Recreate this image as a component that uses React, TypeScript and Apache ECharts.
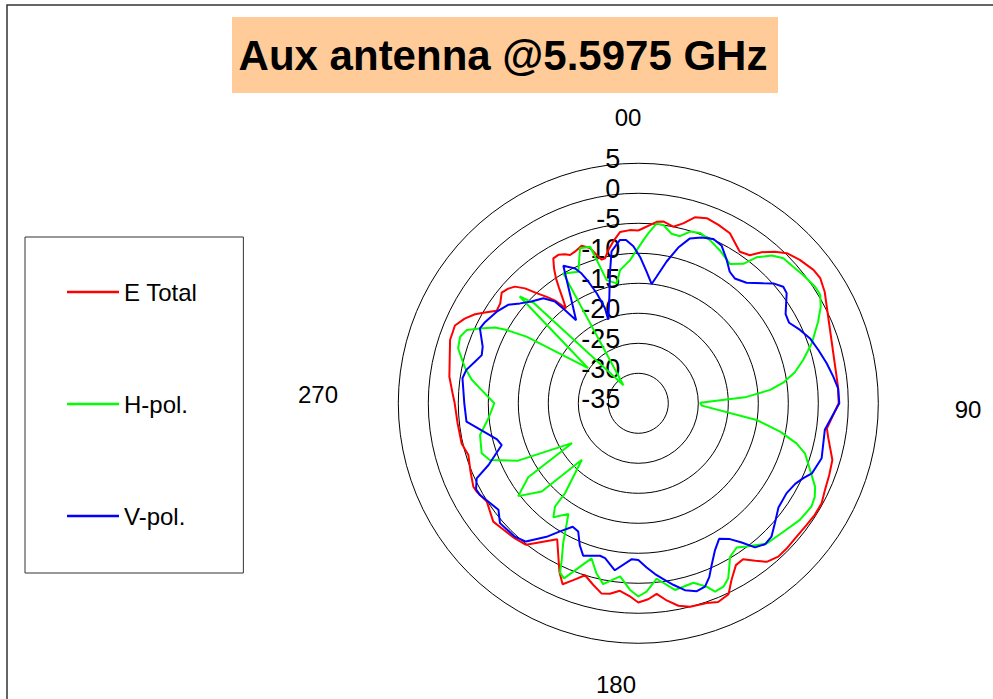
import React, { useEffect, useRef } from "react";
import * as echarts from "echarts";

const FONT = '"Liberation Sans", Arial, Helvetica, sans-serif';

const seriesNames = ["E Total", "H-pol.", "V-pol."];
const seriesColors = ["#ff0000", "#00ff00", "#0000ff"];

const chartTitle = "Aux antenna @5.5975 GHz";
const angleLabels = ["00", "90", "180", "270"];
const radiusMin = -35;
const radiusMax = 5;
const radiusStep = 5;

// E Total
const eTotalAngles = [
  0, 5.8, 7.8, 11.2, 14.0, 16.9, 20.3, 24.2, 28.3, 33.8,
  37.0, 39.2, 42.0, 44.7, 48.4, 52.7, 55.5, 59.1, 85.2, 90.0,
  97.6, 100.4, 106.3, 110.6, 114.9, 118.6, 122.3, 125.9, 130.1, 134.4,
  137.6, 141.0, 143.4, 146.1, 148.9, 152.2, 154.7, 158.1, 161.1, 165.7,
  168.8, 171.8, 174.5, 177.1, 180.0, 182.5, 185.6, 188.5, 190.9, 193.9,
  197.2, 200.2, 202.7, 205.1, 210.8, 218.4, 222.4, 226.8, 230.8, 237.0,
  241.4, 243.2, 247.8, 253.1, 257.2, 263.7, 270.0, 273.1, 278.0, 288.6,
  293.0, 296.0, 298.6, 300.6, 303.2, 305.9, 309.0, 311.4, 313.4, 315.4,
  317.3, 319.3, 320.9, 322.7, 324.0, 325.5, 326.6, 328.0, 329.6, 331.7,
  333.8, 335.3, 337.3, 340.2, 342.7, 344.3, 345.7, 347.1, 348.9, 351.2,
  353.9, 357.2, 360,
];
const eTotalValues = [
  -6.2, -4.6, -4.4, -5.0, -4.1, -2.6, -2.1, -2.4, -2.8, -4.6,
  -4.1, -2.5, -1.0, 0.2, 1.0, 1.7, 1.8, 1.2, -1.6, -1.6,
  -3.3, -2.8, -1.3, -1.0, -0.7, -0.2, -0.2, -0.4, -0.5, -0.4,
  -0.4, -1.0, -2.3, -3.7, -3.5, -1.7, 0.2, 0.7, 0.2, 0.0,
  -0.6, -1.8, -3.1, -2.3, -1.8, -2.8, -3.6, -2.9, -2.7, -3.8,
  -5.0, -3.6, -2.3, -4.0, -8.6, -4.9, -4.5, -4.2, -3.8, -4.9,
  -4.3, -4.2, -4.8, -5.4, -4.8, -4.7, -4.4, -4.0, -3.2, -1.9,
  -1.8, -2.8, -4.0, -5.3, -6.8, -6.6, -5.7, -6.1, -6.7, -8.1,
  -10.0, -11.6, -12.9, -15.1, -13.7, -11.7, -10.1, -8.5, -7.0, -6.9,
  -7.3, -7.8, -7.6, -7.1, -7.9, -9.3, -10.3, -10.2, -9.0, -7.7,
  -6.3, -6.1, -6.2,
];

// H-pol.
const hPolAngles = [
  1.8, 3.4, 5.8, 8.0, 11.1, 14.0, 16.8, 19.9, 23.7, 28.0,
  33.3, 37.0, 39.0, 42.1, 45.0, 48.6, 52.1, 56.6, 59.2, 62.1,
  65.6, 70.9, 75.3, 78.8, 81.9, 84.2, 86.8, 89.4, 92.1, 98.0,
  101.3, 104.2, 106.7, 111.2, 115.3, 118.0, 120.8, 125.8, 131.5, 137.5,
  142.9, 145.7, 149.1, 152.8, 155.1, 157.8, 159.6, 162.9, 168.9, 174.0,
  177.5, 180.0, 182.6, 186.0, 191.0, 193.8, 196.8, 203.0, 204.8, 206.1,
  208.2, 212.3, 216.7, 218.9, 219.2, 225.0, 227.6, 232.3, 236.1, 239.0,
  244.5, 249.1, 252.3, 258.7, 264.3, 270.0, 274.8, 278.2, 281.9, 287.0,
  290.5, 293.1, 295.3, 297.9, 299.1, 300.8, 305.0, 312.0, 313.8, 320.7,
  330.0, 335.5, 339.4, 342.9, 345.6, 349.8, 352.2, 356.7, 361.8,
];
const hPolValues = [
  -7.8, -6.6, -4.9, -5.0, -6.2, -6.3, -5.1, -4.8, -5.3, -6.1,
  -7.2, -5.9, -3.7, -1.8, -0.8, -0.6, -0.2, 0.3, 0.3, -0.6,
  -2.1, -4.4, -6.6, -8.4, -10.6, -12.9, -17.2, -24.7, -24.4, -15.1,
  -10.9, -7.8, -6.0, -4.3, -2.4, -1.7, -1.4, -1.8, -2.7, -3.3,
  -5.1, -5.9, -5.2, -2.2, -1.3, -1.1, -2.4, -3.7, -3.3, -5.6,
  -3.6, -2.8, -3.9, -6.0, -4.3, -5.8, -8.0, -3.3, -3.9, -6.0,
  -8.5, -13.2, -11.3, -12.9, -15.7, -21.7, -13.2, -9.7, -12.9, -22.1,
  -12.8, -8.5, -7.6, -8.1, -9.9, -11.0, -8.8, -6.9, -5.4, -3.6,
  -3.3, -3.9, -5.8, -8.0, -9.9, -13.3, -24.8, -8.4, -10.8, -31.1,
  -10.0, -10.9, -7.4, -7.7, -13.8, -14.7, -12.6, -11.1, -7.8,
];

// V-pol.
const vPolAngles = [
  0.7, 3.6, 6.4, 8.2, 11.3, 14.4, 17.4, 20.9, 24.6, 27.9,
  31.6, 34.8, 37.7, 41.9, 46.2, 48.4, 51.2, 53.4, 58.8, 61.9,
  65.6, 69.3, 73.5, 78.0, 82.2, 85.7, 90.0, 98.1, 106.7, 112.0,
  114.4, 117.2, 121.2, 126.6, 131.3, 135.0, 138.0, 141.0, 143.4, 146.0,
  149.2, 152.4, 155.6, 157.8, 160.0, 162.7, 166.0, 169.1, 171.9, 174.4,
  177.1, 180.0, 182.4, 188.0, 192.1, 194.1, 199.9, 202.4, 205.1, 208.0,
  211.6, 214.5, 219.1, 222.8, 229.1, 232.7, 236.8, 239.9, 242.1, 245.1,
  247.6, 253.0, 255.7, 258.3, 263.9, 270.0, 278.1, 281.0, 284.3, 287.1,
  290.0, 295.3, 298.0, 302.9, 307.1, 310.2, 313.6, 317.9, 320.7, 321.8,
  323.2, 331.4, 334.9, 336.4, 337.7, 339.3, 340.7, 340.2, 344.8, 347.7,
  350.0, 353.6, 355.7, 358.2, 360.7,
];
const vPolValues = [
  -10.6, -13.0, -15.0, -13.7, -10.9, -8.2, -6.2, -5.4, -4.9, -5.3,
  -6.9, -8.3, -8.7, -8.0, -6.1, -4.9, -4.0, -4.2, -6.3, -6.5,
  -5.4, -4.4, -3.7, -2.9, -2.2, -1.6, -1.5, -3.6, -3.1, -3.8,
  -4.8, -5.6, -6.1, -5.9, -4.7, -3.6, -3.4, -4.1, -6.1, -7.7,
  -8.7, -7.4, -5.4, -3.7, -2.5, -2.2, -2.9, -4.2, -5.4, -6.4,
  -7.6, -8.9, -9.0, -6.9, -8.6, -8.8, -8.0, -9.4, -11.4, -11.7,
  -9.9, -8.0, -5.3, -4.7, -4.5, -5.7, -5.1, -4.5, -4.4, -5.3,
  -8.0, -11.2, -10.7, -9.5, -6.2, -6.0, -5.4, -5.8, -6.9, -7.7,
  -7.4, -5.8, -6.1, -6.9, -7.8, -9.2, -10.4, -11.4, -13.1, -15.2,
  -17.7, -8.9, -10.2, -11.4, -13.1, -15.4, -18.2, -20.2, -16.6, -12.8,
  -9.3, -7.6, -7.7, -8.8, -10.6,
];

const seriesAngles = [eTotalAngles, hPolAngles, vPolAngles];
const seriesValues = [eTotalValues, hPolValues, vPolValues];

// layout (pixel positions of page furniture, not data)
const CENTER: [number, number] = [638.3, 403.3];
const RADIUS = 240;
const angleLabelPos = [
  [628, 117],
  [968, 409],
  [616, 684],
  [318, 394],
];

export default function App() {
  const ref = useRef<HTMLDivElement>(null);

  useEffect(() => {
    if (!ref.current) return;
    const chart = echarts.init(ref.current, null, { renderer: "svg" });

    const series = seriesNames.map((name, i) => ({
      name,
      type: "line",
      coordinateSystem: "polar",
      showSymbol: false,
      symbol: "none",
      smooth: false,
      color: seriesColors[i],
      lineStyle: { color: seriesColors[i], width: 2 },
      data: seriesAngles[i].map((a, k) => [seriesValues[i][k], a > 360 ? a - 360 : a]),
    }));

    const graphic: any[] = [
      {
        type: "rect",
        silent: true,
        shape: { x: 7, y: 5, width: 1100, height: 900 },
        style: { fill: "none", stroke: "#333", lineWidth: 1.5 },
      },
      {
        type: "rect",
        silent: true,
        shape: { x: 232, y: 17, width: 546, height: 76 },
        style: { fill: "#ffcc99" },
      },
      {
        type: "text",
        silent: true,
        x: 503,
        y: 55,
        style: {
          text: chartTitle,
          font: `bold 42px ${FONT}`,
          fill: "#000",
          align: "center",
          verticalAlign: "middle",
        },
      },
      ...angleLabels.map((t, i) => ({
        type: "text",
        silent: true,
        x: angleLabelPos[i][0],
        y: angleLabelPos[i][1],
        style: {
          text: t,
          font: `24px ${FONT}`,
          fill: "#000",
          align: "center",
          verticalAlign: "middle",
        },
      })),
    ];

    chart.setOption({
      animation: false,
      backgroundColor: "#ffffff",
      polar: { center: CENTER, radius: RADIUS },
      angleAxis: {
        type: "value",
        min: 0,
        max: 360,
        startAngle: 90,
        clockwise: true,
        axisLine: { show: false },
        axisTick: { show: false },
        axisLabel: { show: false },
        splitLine: { show: false },
      },
      radiusAxis: {
        type: "value",
        min: radiusMin,
        max: radiusMax,
        interval: radiusStep,
        axisLine: { show: false },
        axisTick: { show: false },
        axisLabel: {
          fontSize: 27,
          color: "#000",
          fontFamily: FONT,
          margin: 18,
          verticalAlign: "bottom",
          lineHeight: 8,
        },
        splitLine: { show: true, lineStyle: { color: "#000", width: 1 } },
      },
      legend: {
        data: seriesNames,
        orient: "vertical",
        left: 25,
        top: 237,
        padding: [43, 46, 45, 42],
        borderColor: "#333",
        borderWidth: 1,
        itemGap: 88,
        itemWidth: 52,
        itemHeight: 2.5,
        icon: "rect",
        textStyle: { fontSize: 24, color: "#000", fontFamily: FONT },
      },
      series,
      graphic,
    });

    return () => chart.dispose();
  }, []);

  return (
    <div
      ref={ref}
      style={{ position: "absolute", left: 0, top: 0, width: 993, height: 699 }}
    />
  );
}
